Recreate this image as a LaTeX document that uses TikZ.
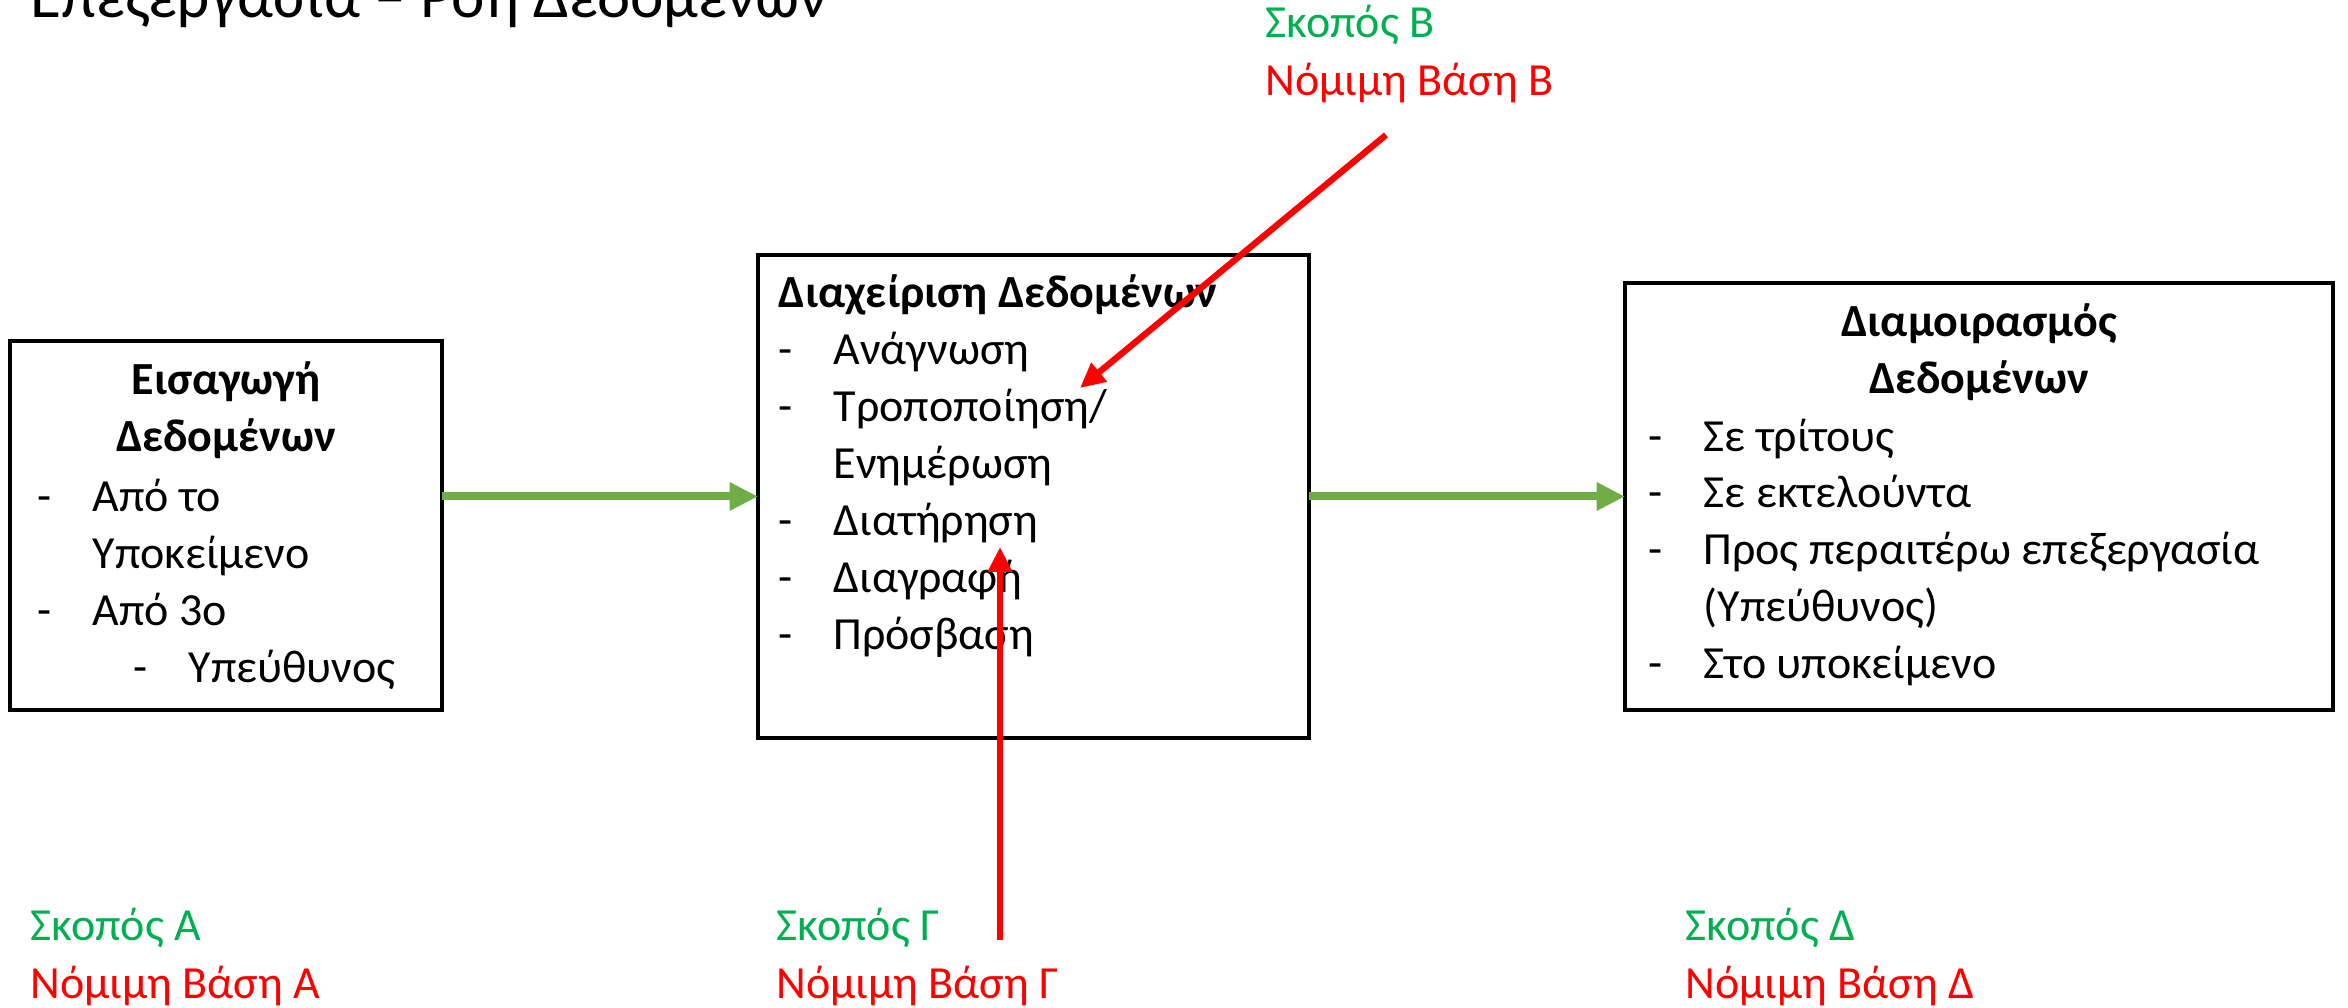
\documentclass[tikz,border=0pt]{standalone}
\usepackage{fontspec}
\setmainfont{Carlito}
\usetikzlibrary{%
    arrows.meta,
    positioning
}
\definecolor{flowgreen}{HTML}{70AD47}
\definecolor{purposegreen}{HTML}{00B050}
\definecolor{basisred}{HTML}{FF0000}
\tikzset{flowarrow/.style = {-{Triangle[length=8.5pt,width=8pt]}, line width=2.4pt, flowgreen}}
\tikzset{basisarrow/.style = {-{Triangle[length=7.5pt,width=7pt]}, line width=1.9pt, basisred}}
\newcommand{\li}[1]{\makebox[16.5pt][l]{-}#1}
\newcommand{\lc}[1]{\makebox[16.5pt]{}#1}
\newcommand{\lii}[1]{\makebox[28.8pt]{}\makebox[16.5pt][l]{-}#1}

\begin{document}
\begin{tikzpicture}[x=0.3pt, y=-0.3pt,
    stage/.style = {draw, line width=1.2pt, inner sep=0pt, outer sep=0pt},
    heading/.style = {font=\fontsize{13.8pt}{17.1pt}\selectfont\bfseries, align=center, inner sep=0pt, anchor=base},
    items/.style = {font=\fontsize{13.8pt}{17.1pt}\selectfont, align=left, inner sep=0pt, anchor=base west},
    purpose/.style = {font=\fontsize{13.8pt}{17.4pt}\selectfont, align=left, inner sep=0pt, anchor=base west}]
    \useasboundingbox (0,0) rectangle (2348,1008);

    % title, cut by the top edge
    \node[anchor=base west, inner sep=0pt, font=\fontsize{19pt}{23pt}\selectfont] (title) at (30,18)
        {Επεξεργασία – Ροή Δεδομένων};

    % the three stages (base = last line)
    \node[stage, minimum width=129.6pt, minimum height=110.7pt] (input) at (226,525.5) {};
    \node[stage, minimum width=165.3pt, minimum height=144.9pt] (manage) at (1033.5,496.5) {};
    \node[stage, minimum width=212.4pt, minimum height=128.1pt] (share) at (1979,496.5) {};

    \node[heading] (input-head) at (226,452) {Εισαγωγή\\Δεδομένων};
    \node[items] (input-list) at (37,683)
        {\li{Από το}\\ \lc{Υποκείμενο}\\ \li{Από 3ο}\\ \lii{Υπεύθυνος}};

    \node[items] (manage-list) at (778,650)
        {\textbf{Διαχείριση Δεδομένων}\\ \li{Ανάγνωση}\\ \li{Τροποποίηση/}\\ \lc{Ενημέρωση}\\
         \li{Διατήρηση}\\ \li{Διαγραφή}\\ \li{Πρόσβαση}};

    \node[heading] (share-head) at (1979,394) {Διαμοιρασμός\\Δεδομένων};
    \node[items] (share-list) at (1648,679)
        {\li{Σε τρίτους}\\ \li{Σε εκτελούντα}\\ \li{Προς περαιτέρω επεξεργασία}\\
         \lc{(Υπεύθυνος)}\\ \li{Στο υποκείμενο}};

    \draw[flowarrow] (input.east |- manage.west) to (manage.west);
    \draw[flowarrow] (manage.east) to (share.west);

    % purposes and legal bases
    \node[purpose] (purpose-a) at (30,999)
        {\textcolor{purposegreen}{Σκοπός Α}\\ \textcolor{basisred}{Νόμιμη Βάση Α}};
    \node[purpose] (purpose-b) at (1265,96)
        {\textcolor{purposegreen}{Σκοπός Β}\\ \textcolor{basisred}{Νόμιμη Βάση Β}};
    \node[purpose] (purpose-c) at (776,999)
        {\textcolor{purposegreen}{Σκοπός Γ}\\ \textcolor{basisred}{Νόμιμη Βάση Γ}};
    \node[purpose] (purpose-d) at (1685,999)
        {\textcolor{purposegreen}{Σκοπός Δ}\\ \textcolor{basisred}{Νόμιμη Βάση Δ}};

    \coordinate (b-start) at (1386,135);
    \coordinate (b-end) at (1080,388);
    \coordinate (c-start) at (1000,940);
    \coordinate (c-end) at (1000,547);
    \draw[basisarrow] (b-start) to (b-end);
    \draw[basisarrow] (c-start) to (c-end);
\end{tikzpicture}
\end{document}
